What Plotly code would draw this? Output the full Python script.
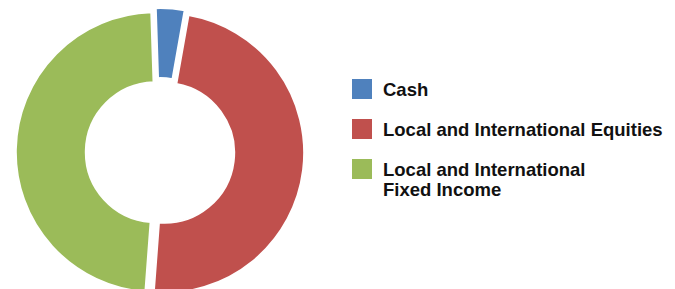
import plotly.graph_objects as go

# ---- data ----
labels = ["Cash", "Local and International Equities", "Local and International Fixed Income"]
legend_text = ["Cash", "Local and International Equities", "Local and International<br>Fixed Income"]
values = [3.3, 48.4, 48.3]
colors = ["#4F81BD", "#C0504D", "#9BBB59"]

W, H = 675, 300
OFF = 8  # page body margin
FONT = "Liberation Sans, Arial, Helvetica, sans-serif"

def px(x):
    return (x - OFF) / W

def py(y):
    return 1 - (y - OFF) / H

PULL = 0.03
R = 140
cx, cy = 160, 152.3
half = R * (1 + PULL)
fig = go.Figure()
fig.add_trace(go.Pie(
    labels=labels,
    values=values,
    sort=False,
    direction="clockwise",
    rotation=-1.85,
    hole=0.5,
    pull=[PULL] * len(values),
    marker=dict(colors=colors, line=dict(color="white", width=2)),
    textinfo="none",
    hoverinfo="label+percent",
    showlegend=False,
    domain=dict(x=[px(cx - half), px(cx + half)], y=[py(cy + half), min(1, py(cy - half))]),
))

# ---- legend (boxes + text), built from the category lists ----
row_y = [89, 129, 169]
line_gap = 20
for i, (txt, col) in enumerate(zip(legend_text, colors)):
    yc = row_y[i]
    fig.add_shape(type="rect", xref="paper", yref="paper",
                  x0=px(352), x1=px(372), y0=py(yc - 10), y1=py(yc + 10),
                  fillcolor=col, line=dict(width=0))
    for j, line in enumerate(txt.split("<br>")):
        fig.add_annotation(x=px(381), y=py(yc + 0.5 + j * line_gap), xref="paper", yref="paper",
                           text=line, showarrow=False, xanchor="left", yanchor="middle",
                           font=dict(family=FONT, size=18.5, color="#111111", weight="bold"))

fig.update_layout(
    width=W, height=H,
    margin=dict(l=0, r=0, t=0, b=0),
    paper_bgcolor="white", plot_bgcolor="white",
)
fig.write_html("out.html")
